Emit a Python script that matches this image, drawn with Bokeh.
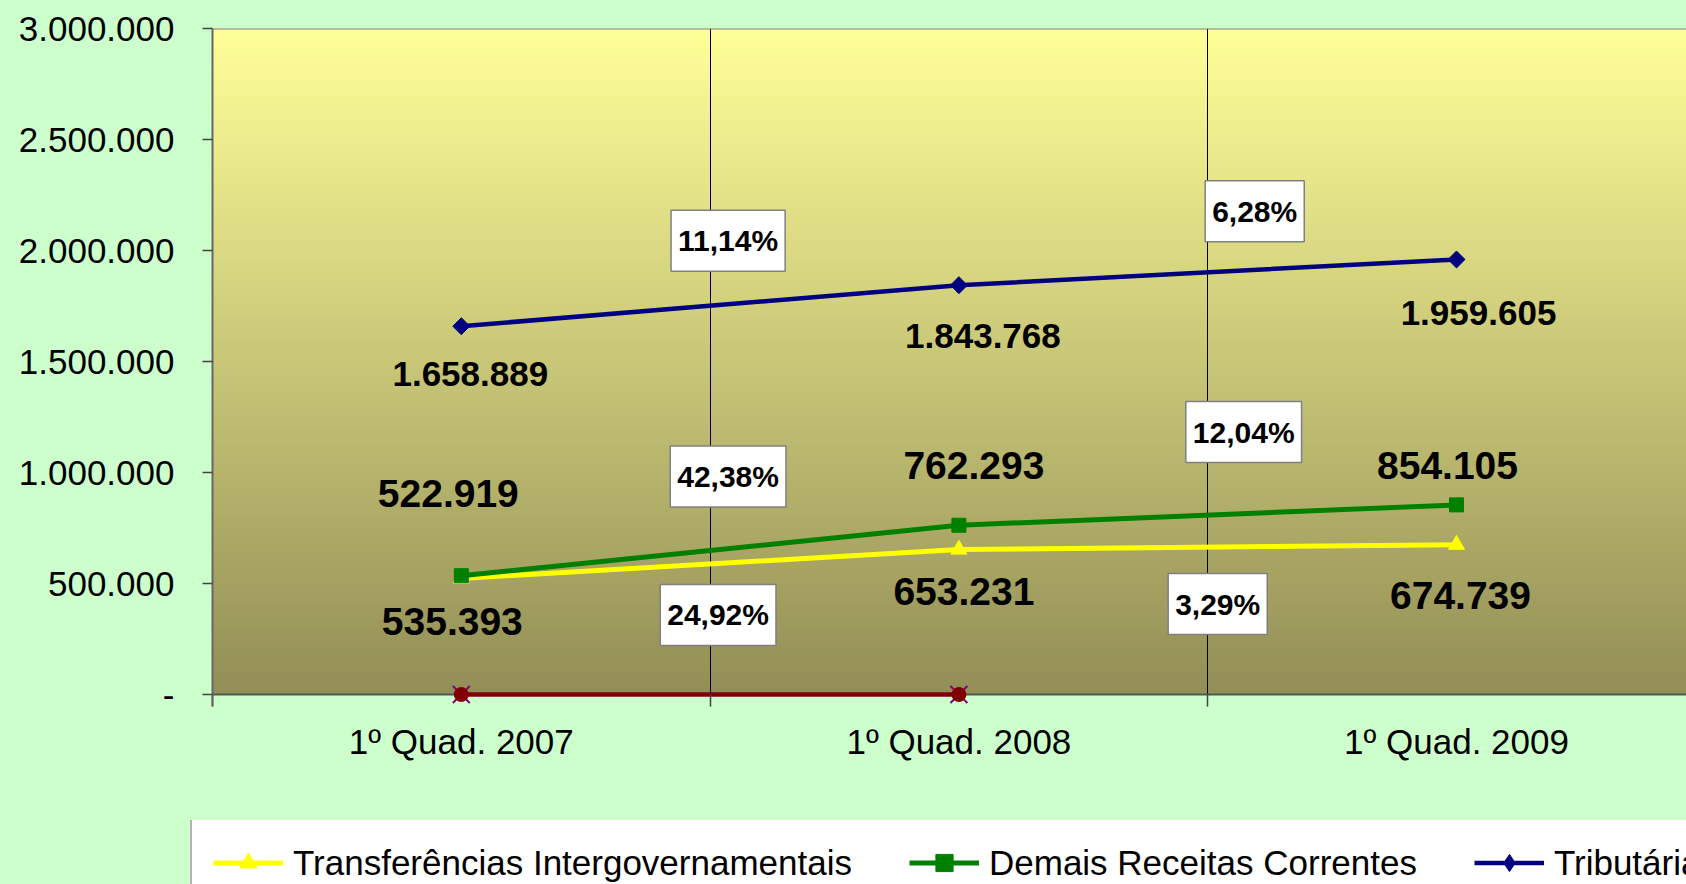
import numpy as np
from bokeh.plotting import figure
from bokeh.layouts import column
from bokeh.models import (FixedTicker, Range1d, Legend, LegendItem, Label, Span,
                          GlobalInlineStyleSheet)
from bokeh.core.properties import value
from bokeh.embed import file_html
from bokeh.resources import INLINE

# ---------------- data ----------------
categories = ["1º Quad. 2007", "1º Quad. 2008", "1º Quad. 2009"]
series_names = ["Transferências Intergovernamentais", "Demais Receitas Correntes", "Tributária"]
transferencias = [522919, 653231, 674739]
demais = [535393, 762293, 854105]
tributaria = [1658889, 1843768, 1959605]
outros_a = [0, 0]          # dark red series (first two periods)
outros_b = [0, 0]          # purple series (first two periods)
y_ticks = [0, 500000, 1000000, 1500000, 2000000, 2500000, 3000000]
y_tick_labels = ["-", "500.000", "1.000.000", "1.500.000", "2.000.000", "2.500.000", "3.000.000"]
pct_transf = ["24,92%", "3,29%"]
pct_demais = ["42,38%", "12,04%"]
pct_trib = ["11,14%", "6,28%"]

# ---------------- layout ----------------
W = 1686
H_MAIN, H_LEG = 820, 64
FL, FT = 212, 28
Y_MAX = 3000000
plot_h = 666                  # px from 0 to Y_MAX
below_px = 12                 # frame extends a bit below the zero line
dy = Y_MAX / plot_h           # data units per px (y)
Y_MIN = -below_px * dy
FB = H_MAIN - FT - plot_h - below_px
frame_w = W - FL
cat_px = 497.6
x_end = frame_w / cat_px
dx = 1.0 / cat_px             # data units per px (x)
BG = "#CCFFCC"
FONT = value("Liberation Sans")

xs = [i + 0.5 for i in range(len(categories))]

p = figure(width=W, height=H_MAIN, output_backend="svg", toolbar_location=None,
           x_range=Range1d(0, x_end), y_range=Range1d(Y_MIN, Y_MAX),
           min_border_left=FL, min_border_top=FT, min_border_bottom=FB, min_border_right=0)
p.stylesheets = [GlobalInlineStyleSheet(css="body { background-color: #CCFFCC; }")]
p.border_fill_color = BG
p.background_fill_color = BG
p.outline_line_color = None

# gradient background of plot area (0 .. Y_MAX)
N = 400
top = np.array([255, 255, 153], dtype=float)
bot = np.array([146, 142, 86], dtype=float)
img = np.empty((N, 2), dtype=np.uint32)
view = img.view(dtype=np.uint8).reshape((N, 2, 4))
for i in range(N):
    t = i / (N - 1)
    c = bot + (top - bot) * t
    view[i, :, 0] = int(round(c[0]))
    view[i, :, 1] = int(round(c[1]))
    view[i, :, 2] = int(round(c[2]))
    view[i, :, 3] = 255
p.image_rgba(image=[img], x=0, y=0, dw=x_end, dh=Y_MAX, level="image")

p.add_layout(Span(location=Y_MAX, dimension="width", line_color="#808080", line_width=2))
p.add_layout(Span(location=0, dimension="width", line_color="#555555", line_width=2,
                  level="underlay"))

# axes
p.yaxis.ticker = FixedTicker(ticks=y_ticks)
p.yaxis.major_label_overrides = {t: l for t, l in zip(y_ticks, y_tick_labels)}
p.yaxis.major_label_text_font = "Liberation Sans"
p.yaxis.major_label_text_font_size = "35px"
p.yaxis.major_label_text_color = "black"
p.yaxis.major_tick_out = 10
p.yaxis.major_tick_in = 0
p.yaxis.major_label_standoff = 28
p.yaxis.minor_tick_line_color = None
p.yaxis.axis_line_color = "#666666"
p.yaxis.axis_line_width = 2
p.yaxis.major_tick_line_color = "#444444"
p.yaxis.major_tick_line_width = 1.5

p.xaxis.ticker = FixedTicker(ticks=xs, minor_ticks=[0, 1, 2, 3])
p.xaxis.major_label_overrides = {x: c for x, c in zip(xs, categories)}
p.xaxis.major_label_text_font = "Liberation Sans"
p.xaxis.major_label_text_font_size = "35px"
p.xaxis.major_label_text_color = "black"
p.xaxis.major_tick_out = 0
p.xaxis.major_tick_in = 0
p.xaxis.minor_tick_out = 0
p.xaxis.minor_tick_in = below_px
p.xaxis.minor_tick_line_color = "#444444"
p.xaxis.minor_tick_line_width = 1.5
p.xaxis.major_label_standoff = 15
p.xaxis.axis_line_color = None

p.xgrid.ticker = FixedTicker(ticks=[1, 2])
p.xgrid.grid_line_color = "black"
p.xgrid.grid_line_width = 1
p.ygrid.grid_line_color = None

# series styles
sty_y = dict(color="#FFFF00", marker="triangle", size=16, lw=5, angle=0)
sty_g = dict(color="#008000", marker="square", size=14, lw=5, angle=0)
sty_b = dict(color="#000080", marker="square", size=12, lw=4.5, angle=np.pi / 4)
sty_b_leg = dict(sty_b, marker="diamond", angle=0)

def draw(fig, xv, yv, s):
    rl = fig.line(xv, yv, line_color=s["color"], line_width=s["lw"])
    rm = fig.scatter(xv, yv, marker=s["marker"], size=s["size"], angle=s["angle"],
                     fill_color=s["color"], line_color=s["color"])
    return rl, rm

ry = draw(p, xs, transferencias, sty_y)
rg = draw(p, xs, demais, sty_g)
rb = draw(p, xs, tributaria, sty_b)
xz = xs[:len(outros_b)]
p.line(xz, outros_b, line_color="#800080", line_width=4)
p.scatter(xz, outros_b, marker="x", size=24, line_color="#800080", line_width=2)
p.line(xz, outros_a, line_color="#800000", line_width=4)
p.scatter(xz, outros_a, marker="circle", size=14, fill_color="#800000", line_color="#800000")

# value labels (offsets in px: right, down)
def fmt(v):
    return f"{v:,}".replace(",", ".")

def value_labels(vals, offs, size):
    lx = [x + ox * dx for x, (ox, oy) in zip(xs, offs)]
    ly = [v - oy * dy for v, (ox, oy) in zip(vals, offs)]
    p.text(x=lx, y=ly, text=[fmt(v) for v in vals], text_font=FONT,
           text_font_style="bold", text_font_size=size, text_color="black",
           text_align="center", text_baseline="middle")

value_labels(tributaria, [(9, 48), (24, 51), (22, 54)], "35px")
value_labels(demais, [(-9, 46), (15, -60), (-9, -39)], "39px")
value_labels(transferencias, [(-13, -85), (5, 42), (4, 51)], "39px")

# growth boxes (offsets in px from boundary / segment midpoint)
def pct_labels(vals, texts, offs):
    for i, (txt, (ox, oy)) in enumerate(zip(texts, offs)):
        mid = (vals[i] + vals[i + 1]) / 2
        p.add_layout(Label(x=(i + 1) + ox * dx, y=mid - oy * dy, text=txt,
                           text_font="Liberation Sans", text_font_style="bold",
                           text_font_size="30px", text_color="black",
                           text_align="center", text_baseline="middle",
                           background_fill_color="white", background_fill_alpha=1,
                           border_line_color="#808080", border_line_width=1.5,
                           padding=(7, 14)))

pct_labels(tributaria, pct_trib, [(18, -65), (47, -61)])
pct_labels(demais, pct_demais, [(18, -74), (36, -83)])
pct_labels(transferencias, pct_transf, [(8, 51), (10, 57)])

# ---------------- legend strip ----------------
p2 = figure(width=W, height=H_LEG, output_backend="svg", toolbar_location=None,
            x_range=Range1d(0, 1), y_range=Range1d(0, 1), min_border=0,
            x_axis_type=None, y_axis_type=None)
p2.border_fill_color = BG
p2.background_fill_color = BG
p2.outline_line_color = None
p2.grid.visible = False
frame_left = FL
if "frame_align" in p2.properties():
    p2.frame_align = False      # keep the strip's frame at the canvas left edge
    frame_left = 0

# legend proxies: same styles, the data lies outside this strip's ranges
ly_ = draw(p2, xs, transferencias, sty_y)
lg_ = draw(p2, xs, demais, sty_g)
lb_ = draw(p2, xs, tributaria, sty_b_leg)

pad = 21
item_h = 43
leg_h = 2 * pad + item_h
box_left = 190
items = [LegendItem(label=series_names[0], renderers=list(ly_)),
         LegendItem(label=series_names[1], renderers=list(lg_)),
         LegendItem(label=series_names[2], renderers=list(lb_))]
legend = Legend(items=items, orientation="horizontal",
                location=(box_left - frame_left, H_LEG - 2 - leg_h),
                label_text_font="Liberation Sans", label_text_font_size="35px",
                label_text_color="black", glyph_width=70, glyph_height=item_h,
                label_height=item_h, label_standoff=10, spacing=57, padding=pad,
                margin=0, border_line_color="#666666", border_line_width=2,
                background_fill_color="white", background_fill_alpha=1)
p2.add_layout(legend)

layout = column(p, p2, spacing=0)
open("out.html", "w").write(file_html(layout, INLINE))
